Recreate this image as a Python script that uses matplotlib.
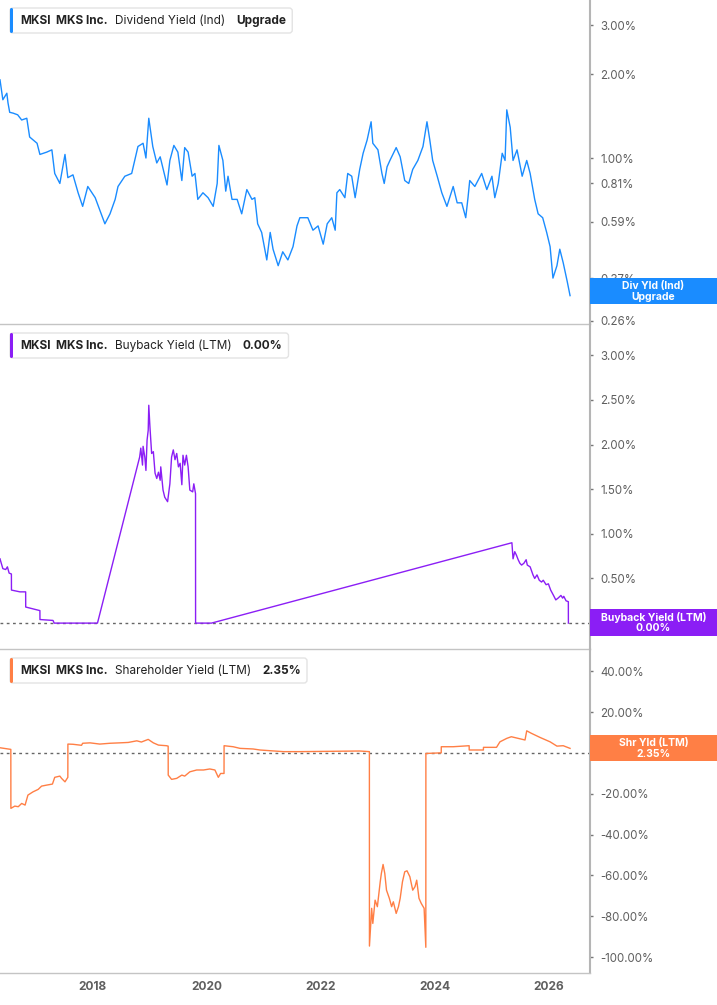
import matplotlib
matplotlib.use("Agg")
import matplotlib.pyplot as plt
from matplotlib.patches import FancyBboxPatch, Rectangle
from matplotlib.ticker import FixedLocator, FixedFormatter, NullLocator

plt.rcParams['font.family'] = ['Inter', 'DejaVu Sans']

# ---------------- data ----------------
div_dates = [2016.37, 2016.42, 2016.49, 2016.51, 2016.54, 2016.60, 2016.68, 2016.75, 2016.84, 2016.89,
             2017.02, 2017.07, 2017.19, 2017.28, 2017.33, 2017.42, 2017.51, 2017.56, 2017.65, 2017.74,
             2017.82, 2017.91, 2018.04, 2018.12, 2018.21, 2018.30, 2018.39, 2018.44, 2018.56, 2018.68,
             2018.79, 2018.88, 2018.93, 2018.98, 2019.05, 2019.12, 2019.18, 2019.30, 2019.35, 2019.42,
             2019.49, 2019.56, 2019.61, 2019.67, 2019.74, 2019.79, 2019.84, 2019.93, 2020.02, 2020.11,
             2020.18, 2020.21, 2020.28, 2020.33, 2020.37, 2020.44, 2020.53, 2020.61, 2020.70, 2020.79,
             2020.84, 2020.89, 2020.96, 2021.05, 2021.11, 2021.16, 2021.25, 2021.33, 2021.42, 2021.51,
             2021.58, 2021.63, 2021.67, 2021.77, 2021.86, 2021.95, 2022.04, 2022.11, 2022.19, 2022.25,
             2022.28, 2022.33, 2022.42, 2022.47, 2022.54, 2022.60, 2022.68, 2022.74, 2022.81, 2022.88,
             2022.91, 2023.00, 2023.07, 2023.11, 2023.16, 2023.21, 2023.32, 2023.39, 2023.47, 2023.54,
             2023.61, 2023.70, 2023.79, 2023.86, 2023.91, 2023.96, 2024.04, 2024.12, 2024.21, 2024.32,
             2024.39, 2024.47, 2024.54, 2024.58, 2024.61, 2024.70, 2024.82, 2024.91, 2025.00, 2025.05,
             2025.11, 2025.18, 2025.23, 2025.26, 2025.32, 2025.37, 2025.44, 2025.53, 2025.61, 2025.67,
             2025.75, 2025.81, 2025.89, 2025.96, 2026.02, 2026.07, 2026.14, 2026.19, 2026.25, 2026.32,
             2026.37]
div_yield = [1.91, 1.62, 1.71, 1.58, 1.46, 1.45, 1.43, 1.37, 1.39, 1.19,
             1.13, 1.03, 1.05, 1.07, 0.88, 0.81, 1.03, 0.85, 0.87, 0.75,
             0.67, 0.79, 0.72, 0.65, 0.58, 0.63, 0.71, 0.79, 0.86, 0.88,
             1.10, 1.13, 1.00, 1.39, 1.10, 0.96, 1.01, 0.80, 0.98, 1.11,
             1.05, 0.83, 1.09, 1.05, 0.86, 0.88, 0.71, 0.75, 0.72, 0.67,
             0.81, 1.11, 0.98, 0.76, 0.86, 0.71, 0.71, 0.63, 0.77, 0.71,
             0.72, 0.58, 0.54, 0.43, 0.54, 0.47, 0.41, 0.46, 0.43, 0.48,
             0.57, 0.61, 0.61, 0.61, 0.55, 0.57, 0.49, 0.58, 0.61, 0.55,
             0.75, 0.77, 0.72, 0.88, 0.86, 0.72, 0.91, 1.04, 1.16, 1.35,
             1.13, 1.07, 0.88, 0.81, 0.93, 0.98, 1.09, 1.01, 0.83, 0.81,
             0.91, 0.98, 1.10, 1.35, 1.16, 0.98, 0.86, 0.75, 0.67, 0.79,
             0.69, 0.69, 0.61, 0.72, 0.83, 0.79, 0.88, 0.77, 0.86, 0.72,
             0.81, 1.04, 0.98, 1.49, 1.29, 0.98, 1.07, 0.86, 0.98, 0.88,
             0.71, 0.63, 0.61, 0.54, 0.48, 0.37, 0.41, 0.47, 0.42, 0.36,
             0.32]

bb_dates = [2016.37, 2016.42, 2016.47, 2016.50, 2016.53, 2016.57, 2016.571, 2016.72, 2016.82, 2016.821,
            2017.07, 2017.071, 2017.30, 2017.32, 2018.08, 2018.82, 2018.84, 2018.87, 2018.88, 2018.91,
            2018.93, 2018.95, 2018.97, 2018.98, 2019.00, 2019.03, 2019.06, 2019.09, 2019.12, 2019.15,
            2019.18, 2019.19, 2019.23, 2019.26, 2019.31, 2019.35, 2019.38, 2019.41, 2019.44, 2019.47,
            2019.50, 2019.53, 2019.56, 2019.58, 2019.61, 2019.64, 2019.67, 2019.70, 2019.75, 2019.77,
            2019.80, 2019.801, 2020.08, 2025.35, 2025.37, 2025.40, 2025.43, 2025.46, 2025.49, 2025.52,
            2025.56, 2025.60, 2025.62, 2025.67, 2025.72, 2025.75, 2025.79, 2025.83, 2025.87, 2025.90,
            2025.95, 2025.99, 2026.03, 2026.08, 2026.12, 2026.16, 2026.21, 2026.24, 2026.26, 2026.30,
            2026.34, 2026.341]
bb_yield = [0.72, 0.61, 0.60, 0.63, 0.56, 0.55, 0.37, 0.35, 0.35, 0.18,
            0.14, 0.04, 0.03, 0.00, 0.00, 1.86, 1.96, 1.77, 1.98, 1.86,
            1.71, 2.05, 2.16, 2.44, 2.20, 1.90, 1.92, 1.68, 1.62, 1.69,
            1.60, 1.75, 1.49, 1.41, 1.36, 1.56, 1.86, 1.94, 1.83, 1.90,
            1.75, 1.79, 1.55, 1.88, 1.77, 1.88, 1.75, 1.49, 1.47, 1.56,
            1.45, 0.00, 0.00, 0.90, 0.72, 0.80, 0.76, 0.71, 0.67, 0.65,
            0.67, 0.71, 0.65, 0.63, 0.54, 0.50, 0.54, 0.48, 0.46, 0.48,
            0.43, 0.44, 0.37, 0.31, 0.26, 0.28, 0.31, 0.28, 0.30, 0.25,
            0.24, 0.00]

shr_dates = [2016.37, 2016.56, 2016.561, 2016.63, 2016.69, 2016.75, 2016.81, 2016.86, 2016.95, 2017.04,
             2017.10, 2017.19, 2017.29, 2017.33, 2017.42, 2017.45, 2017.51, 2017.56, 2017.561, 2017.65,
             2017.80, 2017.82, 2017.95, 2018.12, 2018.30, 2018.47, 2018.62, 2018.77, 2018.85, 2018.97,
             2019.06, 2019.15, 2019.29, 2019.32, 2019.321, 2019.38, 2019.47, 2019.56, 2019.61, 2019.70,
             2019.82, 2019.94, 2020.05, 2020.14, 2020.20, 2020.24, 2020.30, 2020.301, 2020.46, 2020.58,
             2020.81, 2020.93, 2021.34, 2021.63, 2022.68, 2022.85, 2022.851, 2022.89, 2022.91, 2022.95,
             2022.99, 2023.04, 2023.06, 2023.09, 2023.12, 2023.15, 2023.20, 2023.24, 2023.27, 2023.32,
             2023.36, 2023.39, 2023.43, 2023.47, 2023.51, 2023.56, 2023.61, 2023.65, 2023.68, 2023.72,
             2023.76, 2023.81, 2023.84, 2023.841, 2024.11, 2024.111, 2024.32, 2024.60, 2024.601, 2024.85,
             2024.851, 2025.08, 2025.14, 2025.26, 2025.34, 2025.46, 2025.58, 2025.61, 2025.69, 2025.84,
             2026.02, 2026.14, 2026.25, 2026.37]
shr_yield = [2.6, 1.8, -27.1, -26.0, -26.3, -24.7, -25.5, -20.6, -19.0, -17.8,
             -16.2, -15.7, -15.2, -11.9, -11.3, -12.4, -14.1, -11.9, 4.4, 4.3,
             3.8, 4.8, 5.0, 4.4, 4.8, 5.0, 5.2, 6.0, 5.4, 6.7,
             5.0, 3.9, 3.6, 3.4, -10.8, -12.9, -12.4, -10.8, -11.3, -9.2,
             -8.3, -8.3, -7.8, -8.3, -11.9, -10.0, -10.0, 3.6, 3.1, 2.3,
             2.0, 1.5, 0.7, 0.7, 1.0, 0.7, -94.6, -76.1, -83.5, -72.1,
             -75.3, -63.1, -59.0, -54.6, -59.0, -67.2, -71.2, -75.3, -72.9, -78.6,
             -75.3, -71.2, -63.1, -58.2, -57.7, -60.6, -67.2, -65.5, -62.3, -71.2,
             -73.7, -76.1, -95.2, -0.2, 0.1, 3.1, 3.1, 3.6, 1.5, 1.5,
             2.8, 2.8, 5.5, 7.2, 8.0, 7.2, 6.4, 10.9, 9.7, 7.7,
             5.5, 3.4, 3.6, 2.3]

year_ticks = [2018, 2020, 2022, 2024, 2026]
div_ticks = [3.00, 2.00, 1.00, 0.81, 0.59, 0.37, 0.32, 0.26]
bb_ticks = [0.0, 0.5, 1.0, 1.5, 2.0, 2.5, 3.0]
shr_ticks = [-100, -80, -60, -40, -20, 0, 20, 40]

BLUE = '#1a8cff'
PURPLE = '#8b1ef5'
ORANGE = '#ff7f45'
SPINE = '#c4c4c4'
TICKC = '#5f5f5f'

W, H = 717, 1005
fig = plt.figure(figsize=(W / 100, H / 100), dpi=100)


def px_axes(top, bottom):
    return fig.add_axes([0, (H - bottom) / H, 590 / W, (bottom - top) / H])


ax1 = px_axes(0, 324)
ax2 = px_axes(324, 649)
ax3 = px_axes(649, 973)

XL = (2016.37, 2026.72)
for ax in (ax1, ax2, ax3):
    ax.set_xlim(*XL)
    ax.set_facecolor('none')
    for s in ('left', 'top'):
        ax.spines[s].set_visible(False)
    ax.spines['right'].set_color('#b5b5b5')
    ax.spines['right'].set_linewidth(1.5)
    ax.spines['bottom'].set_color(SPINE)
    ax.spines['bottom'].set_linewidth(1.0)
    ax.yaxis.tick_right()
    ax.tick_params(axis='y', which='major', direction='out', length=2.5, width=1,
                   color='#777777', labelsize=8.3, labelcolor=TICKC, pad=5)
    ax.set_xticks(year_ticks)
    ax.tick_params(axis='x', length=0)

ax1.set_xticklabels([])
ax2.set_xticklabels([])
ax3.set_xticklabels([str(y) for y in year_ticks], fontsize=8.6, fontweight='bold', color=TICKC)
ax3.tick_params(axis='x', pad=6)

# top: dividend yield (log)
ax1.plot(div_dates, div_yield, color=BLUE, lw=1.0)
ax1.set_yscale('log')
ax1.set_ylim(0.253, 3.70)
ax1.yaxis.set_major_locator(FixedLocator(div_ticks))
ax1.yaxis.set_major_formatter(FixedFormatter([f'{v:.2f}%' for v in div_ticks]))
ax1.yaxis.set_minor_locator(NullLocator())

# middle: buyback yield
ax2.plot(bb_dates, bb_yield, color=PURPLE, lw=1.0)
ax2.axhline(0, color='#666666', lw=1.0, ls=(0, (2, 2.5)), zorder=1)
ax2.set_ylim(-0.29, 3.35)
ax2.set_yticks(bb_ticks)
ax2.set_yticklabels([f'{v:.2f}%' for v in bb_ticks])

# bottom: shareholder yield
ax3.plot(shr_dates, shr_yield, color=ORANGE, lw=1.0)
ax3.axhline(0, color='#666666', lw=1.0, ls=(0, (2, 2.5)), zorder=1)
ax3.set_ylim(-107.8, 51.0)
ax3.set_yticks(shr_ticks)
ax3.set_yticklabels([f'{v:.2f}%' for v in shr_ticks])

# overlay in pixel coordinates for decorations
ov = fig.add_axes([0, 0, 1, 1])
ov.set_xlim(0, W)
ov.set_ylim(H, 0)
ov.axis('off')
ov.set_zorder(10)

renderer = fig.canvas.get_renderer()


def legend_box(y0, y1, color, parts):
    yc = (y0 + y1) / 2 + 0.5
    x = 20
    gaps = [6, 7, 11, 0]
    for (txt, wgt), gap in zip(parts, gaps):
        t = ov.text(x, yc, txt, fontsize=8.5, fontweight=wgt, color='#222222',
                    ha='left', va='center', zorder=5)
        w = t.get_window_extent(renderer=renderer).width
        x = x + w + gap
    x1 = x + 6
    ov.add_patch(FancyBboxPatch((10, y0), x1 - 10, y1 - y0,
                                boxstyle='round,pad=0,rounding_size=3',
                                fc='white', ec='#e3e3e3', lw=1.0, zorder=2))
    ov.add_patch(FancyBboxPatch((10, y0), 3, y1 - y0,
                                boxstyle='round,pad=0,rounding_size=1.5',
                                fc=color, ec='none', zorder=3))


legend_box(8, 33, BLUE, [('MKSI', 'bold'), ('MKS Inc.', 'bold'),
                         ('Dividend Yield (Ind)', 'normal'), ('Upgrade', 'bold')])
legend_box(333, 358, PURPLE, [('MKSI', 'bold'), ('MKS Inc.', 'bold'),
                              ('Buyback Yield (LTM)', 'normal'), ('0.00%', 'bold')])
legend_box(658, 683, ORANGE, [('MKSI', 'bold'), ('MKS Inc.', 'bold'),
                              ('Shareholder Yield (LTM)', 'normal'), ('2.35%', 'bold')])


def value_box(y0, y1, color, line1, line2):
    ov.add_patch(Rectangle((590, y0), W - 590, y1 - y0, fc=color, ec='none'))
    xc = (590 + W) / 2
    ov.text(xc, y0 + (y1 - y0) * 0.3, line1, fontsize=7.5, fontweight='bold',
            color='white', ha='center', va='center')
    ov.text(xc, y0 + (y1 - y0) * 0.72, line2, fontsize=7.5, fontweight='bold',
            color='white', ha='center', va='center')


value_box(278, 304, BLUE, 'Div Yld (Ind)', 'Upgrade')
value_box(609, 636, PURPLE, 'Buyback Yield (LTM)', '0.00%')
value_box(735, 761, ORANGE, 'Shr Yld (LTM)', '2.35%')

fig.savefig('out.png', dpi=100)
